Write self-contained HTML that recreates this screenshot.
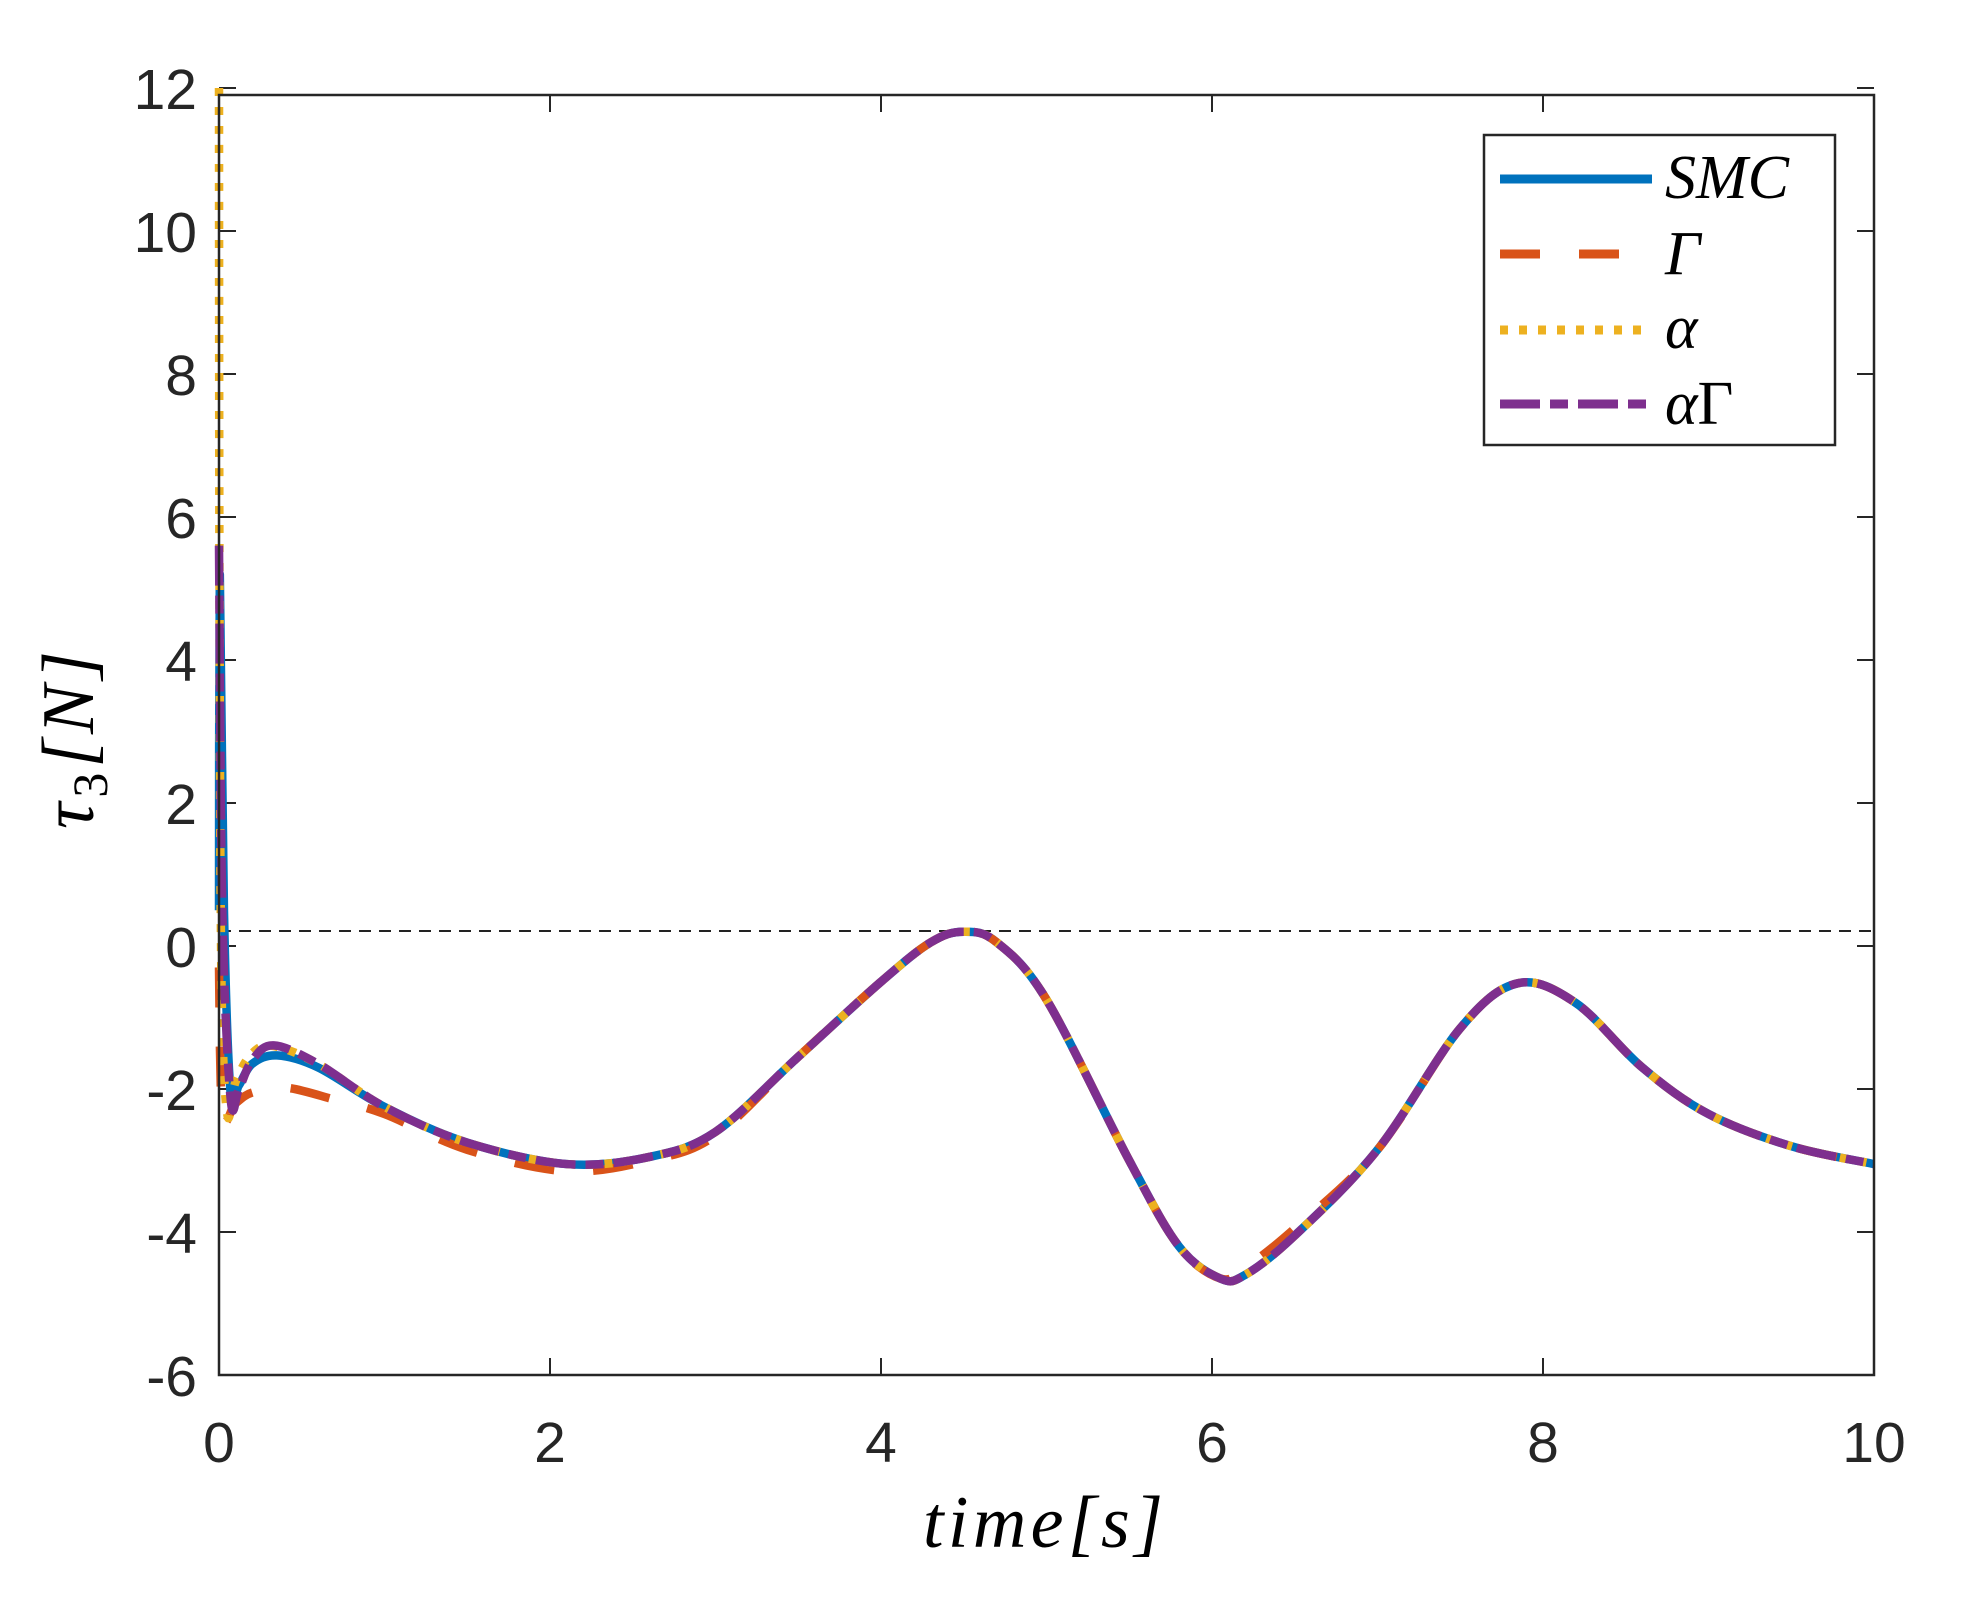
<!DOCTYPE html>
<html><head><meta charset="utf-8"><style>
html,body{margin:0;padding:0;background:#fff;}
svg{display:block}
text{font-family:"Liberation Sans",sans-serif;fill:#262626}
.s{font-family:"Liberation Serif",serif;font-style:italic;fill:#000}
</style></head><body>
<svg id="c" width="1980" height="1604" viewBox="0 0 1980 1604" xmlns="http://www.w3.org/2000/svg">
<rect width="1980" height="1604" fill="#fff"/>
<g id="ticks" stroke="#262626" stroke-width="2"></g>
<g id="labels" font-size="57"></g>
<line x1="219" y1="931" x2="1874" y2="931" stroke="#222" stroke-width="2" stroke-dasharray="12,8"/>
<g id="series" fill="none" stroke-width="8.5" stroke-linejoin="round"></g>
<rect x="219" y="95" width="1655" height="1280" fill="none" stroke="#262626" stroke-width="2.5"/>
<text class="s" x="1043" y="1547" font-size="74" text-anchor="middle" textLength="240">time[s]</text>
<g transform="translate(93,740) rotate(-90)"><text class="s" x="0" y="0" font-size="74" text-anchor="middle" textLength="178">τ<tspan font-size="50" font-style="normal" dy="14">3</tspan><tspan dy="-14">[N]</tspan></text></g>
<rect x="1484" y="135" width="351" height="310" fill="#fff" stroke="#262626" stroke-width="2.5"/>
<line x1="1500" y1="179" x2="1652" y2="179" stroke="#0072BD" stroke-width="9"/>
<line x1="1500" y1="254" x2="1652" y2="254" stroke="#D95319" stroke-width="9" stroke-dasharray="40,39"/>
<line x1="1500" y1="330" x2="1652" y2="330" stroke="#EDB120" stroke-width="9" stroke-dasharray="8,11"/>
<line x1="1500" y1="404" x2="1652" y2="404" stroke="#7E2F8E" stroke-width="9" stroke-dasharray="40,10,18,10"/>
<text class="s" x="1665" y="198" font-size="62">SMC</text>
<text class="s" x="1665" y="274" font-size="62" font-style="normal">Γ</text>
<text class="s" x="1665" y="348" font-size="62">α</text>
<text class="s" x="1665" y="424" font-size="62">α<tspan font-style="normal">Γ</tspan></text>
</svg>
<script>
var X=function(t){return 219+t*165.5},Y=function(v){return 946-v*71.5};
var NS="http://www.w3.org/2000/svg";
function el(p,n,a,txt){var e=document.createElementNS(NS,n);for(var k in a)e.setAttribute(k,a[k]);if(txt!=null)e.textContent=txt;p.appendChild(e);return e;}
var tk=document.getElementById('ticks'),lb=document.getElementById('labels');
for(var i=0;i<=10;i+=2){var x=X(i);el(tk,'line',{x1:x,y1:1375,x2:x,y2:1358});el(tk,'line',{x1:x,y1:95,x2:x,y2:112});el(lb,'text',{x:x,y:1462,'text-anchor':'middle'},String(i));}
for(var v=-6;v<=12;v+=2){var y=Y(v);el(tk,'line',{x1:219,y1:y,x2:236,y2:y});el(tk,'line',{x1:1874,y1:y,x2:1857,y2:y});el(lb,'text',{x:197,y:y+21,'text-anchor':'end'},String(v));}
var tail=[[0.6,-1.65],[1.0,-2.25],[1.5,-2.75],[2.1,-3.05],[2.6,-2.95],[3.0,-2.6],[3.5,-1.55],[4.0,-0.5],[4.3,0.05],[4.5,0.2],[4.7,0.05],[5.0,-0.75],[5.5,-3.0],[5.8,-4.2],[6.05,-4.65],[6.2,-4.6],[6.5,-4.05],[7.0,-2.85],[7.5,-1.15],[7.85,-0.52],[8.2,-0.8],[8.6,-1.7],[9.0,-2.35],[9.5,-2.8],[10,-3.05]];
function path(pts){var d='M'+X(pts[0][0])+','+Y(pts[0][1]);for(var i=0;i<pts.length-1;i++){var p0=pts[i>0?i-1:i],p1=pts[i],p2=pts[i+1],p3=pts[i+2<pts.length?i+2:i+1];
var a=[X(p0[0]),Y(p0[1])],b=[X(p1[0]),Y(p1[1])],c=[X(p2[0]),Y(p2[1])],e=[X(p3[0]),Y(p3[1])];
d+=' C'+(b[0]+(c[0]-a[0])/6)+','+(b[1]+(c[1]-a[1])/6)+' '+(c[0]-(e[0]-b[0])/6)+','+(c[1]-(e[1]-b[1])/6)+' '+c[0]+','+c[1];}return d;}
var smc=[[0,0.5],[0.005,5.2],[0.03,0.5],[0.07,-2.05],[0.12,-1.95],[0.2,-1.65],[0.35,-1.53],[0.6,-1.7],[1.0,-2.25]].concat(tail.slice(2));
var gam=[[0,-0.3],[0.02,-2.35],[0.1,-2.2],[0.2,-2.05],[0.4,-1.98],[0.7,-2.15],[1.0,-2.35],[1.5,-2.85],[2.1,-3.15],[2.6,-3.0],[3.0,-2.65]].concat(tail.slice(6).map(function(p){return p[0]>5.9&&p[0]<6.6?[p[0],p[1]+(p[0]>6.1?0.1:0)]:p;}));
var alp=[[0,12],[0.003,5],[0.015,-0.5],[0.05,-2.35],[0.1,-1.9],[0.2,-1.5],[0.33,-1.4],[0.6,-1.65],[1.0,-2.25]].concat(tail.slice(2));
var ag=[[0,5.6],[0.02,0.5],[0.07,-2.13],[0.12,-2.0],[0.2,-1.6],[0.33,-1.39],[0.6,-1.65],[1.0,-2.25]].concat(tail.slice(2));
var s=document.getElementById('series');
el(s,'path',{d:path(smc),stroke:'#0072BD'});
el(s,'path',{d:path(gam),stroke:'#D95319','stroke-dasharray':'40,39'});
el(s,'path',{d:path(alp),stroke:'#EDB120','stroke-dasharray':'8,11'});
el(s,'path',{d:path(ag),stroke:'#7E2F8E','stroke-dasharray':'40,10,18,10'});
</script>
</body></html>
